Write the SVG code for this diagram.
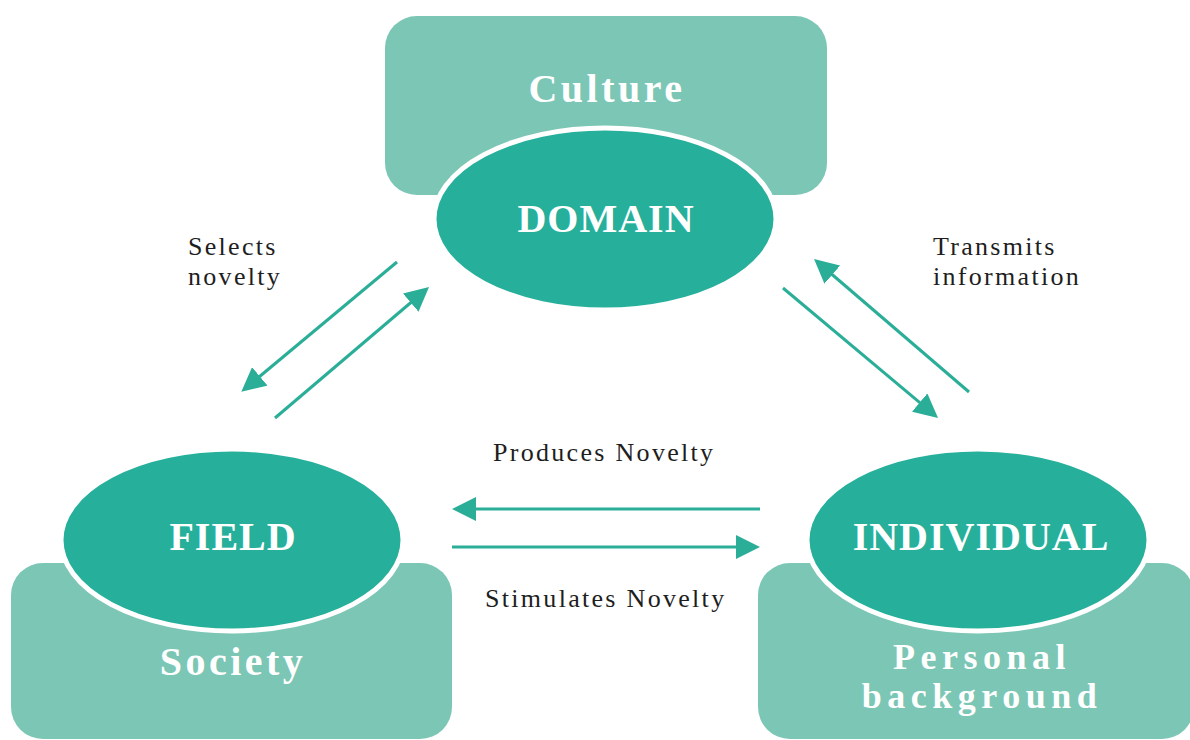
<svg xmlns="http://www.w3.org/2000/svg" width="1190" height="740" viewBox="0 0 1190 740">
  <style>
    .box { fill: #7CC6B5; }
    .core { fill: #26B09B; stroke: #FFFFFF; stroke-width: 5; }
    .title { font-family: "Liberation Serif", "DejaVu Serif", serif; font-weight: bold; font-size: 40px; fill: #FFFFFF; text-anchor: middle; letter-spacing: 1px; }
    .sub { font-family: "Liberation Serif", "DejaVu Serif", serif; font-weight: bold; font-size: 40px; fill: #FFFFFF; text-anchor: middle; letter-spacing: 3.5px; }
    .sub2 { font-family: "Liberation Serif", "DejaVu Serif", serif; font-weight: bold; font-size: 36px; fill: #FFFFFF; text-anchor: middle; letter-spacing: 5.5px; }
    .label { font-family: "Liberation Serif", "DejaVu Serif", serif; font-size: 26px; fill: #1E1E1E; letter-spacing: 2.3px; }
    .flow { fill: none; stroke: #2AAE98; stroke-width: 3; marker-end: url(#head); }
  </style>
  <defs>
    <marker id="head" markerUnits="userSpaceOnUse" viewBox="0 0 24 24" markerWidth="24" markerHeight="24" refX="1" refY="12" orient="auto">
      <path d="M0,0 L24,12 L0,24 z" fill="#2AAE98"/>
    </marker>
  </defs>

  <rect width="1190" height="740" fill="#FFFFFF"/>

  <!-- DOMAIN with its Culture backdrop -->
  <g id="domain">
    <rect class="box" x="385" y="16" width="442" height="179" rx="32"/>
    <text class="sub" x="607" y="102">Culture</text>
    <ellipse class="core" cx="605" cy="219" rx="171" ry="91"/>
    <text class="title" x="606" y="232">DOMAIN</text>
  </g>

  <!-- FIELD with its Society backdrop -->
  <g id="field">
    <rect class="box" x="11" y="563" width="441" height="176" rx="32"/>
    <text class="sub" x="233" y="675">Society</text>
    <ellipse class="core" cx="232" cy="540" rx="171" ry="91"/>
    <text class="title" x="233" y="550">FIELD</text>
  </g>

  <!-- INDIVIDUAL with its Personal background backdrop -->
  <g id="individual">
    <rect class="box" x="758" y="563" width="436" height="176" rx="32"/>
    <text class="sub2" x="982" y="669">Personal</text>
    <text class="sub2" x="982" y="708">background</text>
    <ellipse class="core" cx="978" cy="540" rx="171" ry="91"/>
    <text class="title" x="981" y="550">INDIVIDUAL</text>
  </g>

  <!-- connectors between the three systems -->
  <g id="connectors">
    <line class="flow" x1="397" y1="262" x2="259" y2="377"/>
    <line class="flow" x1="275" y1="418" x2="411.5" y2="302"/>
    <line class="flow" x1="783" y1="288" x2="920.4" y2="403.2"/>
    <line class="flow" x1="969" y1="392" x2="831.5" y2="274"/>
    <line class="flow" x1="760" y1="509" x2="475" y2="509"/>
    <line class="flow" x1="452" y1="547" x2="737" y2="547"/>
  </g>

  <!-- connector labels -->
  <g id="labels">
    <text class="label" x="188" y="255">Selects</text>
    <text class="label" x="188" y="285">novelty</text>
    <text class="label" x="933" y="255">Transmits</text>
    <text class="label" x="933" y="285">information</text>
    <text class="label" x="493" y="461">Produces Novelty</text>
    <text class="label" x="485" y="607">Stimulates Novelty</text>
  </g>
</svg>
